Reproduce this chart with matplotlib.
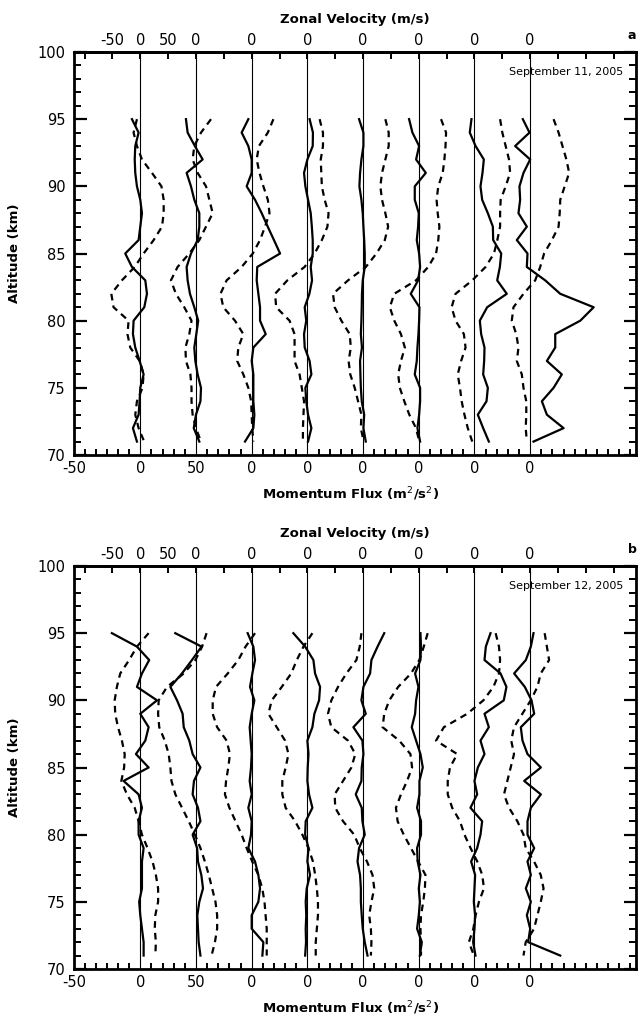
import numpy as np
import matplotlib
matplotlib.use("Agg")
import matplotlib.pyplot as plt
from matplotlib.ticker import MultipleLocator, FixedLocator, FixedFormatter

plt.rcParams['font.family'] = ['DejaVu Sans']
plt.rcParams['axes.unicode_minus'] = False

# altitude grid (km), top to bottom
alt = np.arange(95, 70, -1)

# profile offsets on the shared x axis
offsets = [0, 50, 100, 150, 200, 250, 300, 350]

# ---- September 11, 2005 ----
# momentum flux (m2/s2), 95 km -> 71 km
flux_a0 = [-7.5, -1.5, -4.5, -5, -4.5, -3, 0, 1.5, 0, -1.5, -13.5, -7.5, 4.5, 6, 3.6, -6, -6.6, -4.5, -0.6, 3, 0, -0.6, -1.5, -6.6, -3]
flux_a1 = [-9, -7.5, -1, 6, -8.4, -4.5, -1.5, 3, 3, 1.5, -4.5, -8.4, -7.5, -5.4, -1.5, 2, 0.3, -1.5, -0.6, 1.5, 4.5, 4, 0, -2, 3]
flux_a2 = [-3, -9, -3, 0, 0, -4.5, 3, 9, 14.4, 20, 25.5, 5, 4.5, 6, 7.5, 7.5, 12.6, 1.5, 0, 1.5, 1.5, 1.5, 2.4, 1.5, -6]
flux_a3 = [2, 5, 4.8, 0, -3, -1.8, 0.6, 3, 4, 4.8, 4.8, 3, 4.2, 1.8, -2.4, -1, -3, -2.4, 2, 3.6, -1.8, -1, 0.6, 3.6, 0.6]
flux_a4 = [-3.6, 0.3, 0.3, -1.5, -2.7, -3.3, -1.5, -0.3, 0.3, 1, 1.5, 1.5, -0.3, -1, -1.2, -1.5, -2, -1, -2.7, -2.4, -2, -1.2, 1, 0.3, 2.4]
flux_a5 = [-8.7, -5.7, 0.3, -2.4, 6.3, -3.6, -3.6, 0, -0.6, -1.8, 0.3, 1.2, -0.6, -7.2, 0.6, 0.3, -0.3, -1.2, -1.8, -3.6, 1.2, 1.2, 0.3, -1.2, 1.2]
flux_a6 = [-2.7, -4.2, 1, 8.4, 7.2, 5.4, 6.9, 12, 16.5, 16.8, 24, 22.8, 20.4, 29, 11.4, 4.8, 6, 9, 8.7, 7.8, 12, 10.8, 3, 7.8, 12.9]
flux_a7 = [-6.6, -0.6, -13.5, 0, -6, -9.6, -9, -10.5, -3, -12, -2.4, -3, 13.5, 27, 57, 45, 22.5, 22.5, 15, 28.4, 21, 10.5, 15, 30, 3]

# zonal velocity (m/s), 95 km -> 71 km
wind_a0 = [-6, -12, -6, 3, 21, 38, 42, 42, 39, 24, 6, -10, -33, -52, -48, -21, -23, -18, -1, 6, 4, -6, -9, -3, 7]
wind_a1 = [27, 9, -3, -6, 3, 18, 24, 30, 18, 6, -12, -33, -45, -36, -21, -8, -12, -19, -18, -10, -8, -8, -6, 0, 9]
wind_a2 = [39, 29, 13, 9, 14, 21, 29, 32, 24, 15, 2, -18, -45, -56, -51, -30, -15, -24, -26, -15, -6, -1, 0, 1, 3]
wind_a3 = [22, 28, 28, 24, 25, 26, 31, 38, 36, 26, 13, -5, -36, -58, -56, -32, -23, -23, -23, -14, -10, -6, -7, -8, -8]
wind_a4 = [40, 46, 46, 40, 34, 31, 34, 40, 45, 39, 24, 5, -27, -54, -51, -39, -24, -22, -26, -23, -15, -9, -3, -4, 1]
wind_a5 = [40, 49, 48, 46, 43, 35, 32, 34, 37, 35, 31, 17, -5, -44, -52, -44, -32, -25, -32, -37, -34, -26, -17, -5, 1]
wind_a6 = [46, 50, 56, 62, 64, 56, 47, 46, 46, 41, 35, 20, -4, -34, -41, -34, -19, -16, -24, -30, -26, -23, -18, -12, -4]
wind_a7 = [42, 51, 58, 65, 70, 62, 54, 53, 51, 39, 25, 18, 9, -12, -30, -33, -25, -21, -24, -15, -12, -7, -7, -8, -6]

# ---- September 12, 2005 ----
flux_b0 = [-25.5, -3, 8, 1.5, -3, 15, 0, 7.5, 4.5, -3.9, 7.5, -15, -1.5, 1.5, -1.5, -1.5, 3, 1.5, 1.5, 1.5, -1, 0, 1.5, 3, 3]
flux_b1 = [-18.6, 5, -3.6, -12.6, -23, -17, -12, -11, -6, -3, 4, -1.8, -3, 1.8, 4, -3, 1, 1.8, 4.8, 6.3, 3, 1.2, 1.8, 2.4, 4]
flux_b2 = [-3.6, 1.5, 3, 0.6, -1.5, 2.4, 0, -1.8, -0.9, 0, -0.6, -1.8, 0, -3, 0, -0.6, -3, 3, 6, 7.5, 6, 0, 0, 10.5, 9.6]
flux_b3 = [-12.6, -2, 5.4, 6.9, 11.4, 10.5, 6.3, 4.5, 0, 1, 0.3, 0, 1.5, 4.5, -1.5, -2, 1, 0, 2.4, -0.6, -1.5, -1, -1.5, -1.2, -2]
flux_b4 = [19, 13, 7.5, 6.3, 0.3, -1.5, 2.4, -8.7, -0.6, 0.3, -1.2, -1.5, -6.6, -1.2, -0.6, 1.5, -3.6, -5, -2.7, -2, -2, -1.2, -0.3, 1.5, 4]
flux_b5 = [1.5, 2, 1.5, -3.3, -0.3, -2.4, -3.3, -6.3, -2.4, 1.5, 3.6, 0.6, 0.6, -1.5, 2, 2, -1.5, -1, 1.5, 0, 1, 0, -1.5, 2.7, 1]
flux_b6 = [14.4, 10.2, 9, 23.4, 28.7, 26.3, 9, 12.9, 5.4, 9, 3, 0, 2.4, -3.6, 6.9, 5.4, 2.4, -3, 0.6, 0, -0.6, 0.6, 0, -1.2, 0.9]
flux_b7 = [3, 0.6, -3.9, -14.4, -4.8, 1.2, 3.6, -8.4, -6.9, -2.4, 9.6, -5.4, 9.6, 0.6, -2.4, -2.4, 3.6, -2.4, 0.6, -3.9, 0.6, -3, 0, -1.8, 27]

wind_b0 = [15, -6, -20, -36, -42, -46, -45, -40, -33, -28, -29, -34, -24, -10, -3, 3, 13, 22, 28, 32, 32, 27, 26, 28, 27]
wind_b1 = [19, 11, -1, -22, -52, -67, -68, -66, -56, -49, -46, -44, -37, -25, -13, -2, 8, 16, 23, 29, 35, 38, 38, 34, 28]
wind_b2 = [6, -11, -24, -43, -64, -70, -70, -62, -45, -39, -42, -46, -48, -40, -29, -18, -9, 1, 12, 19, 23, 25, 27, 27, 27]
wind_b3 = [9, -7, -19, -29, -46, -64, -70, -55, -40, -34, -39, -45, -45, -39, -22, -9, 2, 10, 14, 17, 19, 19, 17, 15, 15]
wind_b4 = [-3, -6, -12, -30, -45, -57, -63, -57, -27, -14, -21, -36, -51, -50, -36, -16, -6, 7, 17, 20, 15, 11, 14, 15, 14]
wind_b5 = [16, 9, 1, -14, -37, -53, -62, -65, -35, -15, -12, -21, -32, -41, -38, -27, -14, -1, 12, 11, 8, 4, 3, 4, 4]
wind_b6 = [38, 44, 46, 44, 34, 16, -13, -55, -69, -31, -44, -48, -48, -40, -26, -18, -7, 5, 14, 17, 8, 2, -2, -10, -1]
wind_b7 = [26, 30, 34, 19, 13, 1, -14, -29, -34, -29, -35, -41, -47, -38, -23, -12, -8, 7, 19, 24, 19, 13, 7, -8, -12]

flux_a = [flux_a0, flux_a1, flux_a2, flux_a3, flux_a4, flux_a5, flux_a6, flux_a7]
wind_a = [wind_a0, wind_a1, wind_a2, wind_a3, wind_a4, wind_a5, wind_a6, wind_a7]
flux_b = [flux_b0, flux_b1, flux_b2, flux_b3, flux_b4, flux_b5, flux_b6, flux_b7]
wind_b = [wind_b0, wind_b1, wind_b2, wind_b3, wind_b4, wind_b5, wind_b6, wind_b7]

wind_scale = 0.5   # 50 m/s spans 25 flux units
xmin, xmax = -59.5, 445

bottom_pos = [xmin, 0, 50, 100, 150, 200, 250, 300, 350]
bottom_lab = ['-50', '0', '50', '0', '0', '0', '0', '0', '0']
top_pos = list(range(-50, 450, 25))
top_lab_map = {-25: '-50', 0: '0', 25: '50', 50: '0', 100: '0', 150: '0',
               200: '0', 250: '0', 300: '0', 350: '0'}
top_lab = [top_lab_map.get(p, '') for p in top_pos]


def draw_panel(ax, fluxes, winds, date, letter):
    for off, fl, wd in zip(offsets, fluxes, winds):
        ax.axvline(off, color='k', lw=0.8)
        ax.plot(off + np.array(fl), alt, color='k', lw=1.6)
        ax.plot(off + wind_scale * np.array(wd), alt, color='k', lw=1.6,
                ls=(0, (3, 2.3)))
    ax.set_xlim(xmin, xmax)
    ax.set_ylim(70, 100)

    for s in ax.spines.values():
        s.set_linewidth(2)

    ax.xaxis.set_major_locator(FixedLocator(bottom_pos))
    ax.xaxis.set_major_formatter(FixedFormatter(bottom_lab))
    ax.xaxis.set_minor_locator(MultipleLocator(10))
    ax.tick_params(axis='x', which='major', length=0, pad=4, labelsize=10.5)
    ax.tick_params(axis='x', which='minor', direction='in', length=4, width=1.4)
    ax.tick_params(axis='x', which='both', top=False)

    ax.yaxis.set_major_locator(MultipleLocator(5))
    ax.yaxis.set_minor_locator(MultipleLocator(1))
    ax.tick_params(axis='y', which='major', direction='in', length=9, width=1.6,
                   right=True, labelsize=10.5, pad=6)
    ax.tick_params(axis='y', which='minor', direction='in', length=5, width=1.4,
                   right=True)

    top = ax.secondary_xaxis('top')
    top.xaxis.set_major_locator(FixedLocator(top_pos))
    top.xaxis.set_major_formatter(FixedFormatter(top_lab))
    top.tick_params(direction='in', length=5, width=1.4, labelsize=10.5, pad=3)
    top.spines['top'].set_linewidth(2)
    top.set_xlabel('Zonal Velocity (m/s)', fontsize=9.5, fontweight='bold', labelpad=7)

    ax.set_xlabel('Momentum Flux (m$^2$/s$^2$)', fontsize=9.5, fontweight='bold')
    ax.xaxis.set_label_coords(0.493, -0.075)
    ax.set_ylabel('Altitude (km)', fontsize=9.5, fontweight='bold')
    ax.yaxis.set_label_coords(-0.095, 0.5)

    ax.text(0.977, 0.95, date, transform=ax.transAxes, ha='right', va='center',
            fontsize=8)
    ax.text(0.993, 1.042, letter, transform=ax.transAxes, ha='center',
            va='center', fontsize=9, fontweight='bold')


fig = plt.figure(figsize=(6.4, 10.19), dpi=100)
ax_a = fig.add_axes([74 / 640, 1 - 455 / 1019, 562 / 640, 403 / 1019])
ax_b = fig.add_axes([74 / 640, 1 - 969 / 1019, 562 / 640, 403 / 1019])

draw_panel(ax_a, flux_a, wind_a, 'September 11, 2005', 'a')
draw_panel(ax_b, flux_b, wind_b, 'September 12, 2005', 'b')

fig.savefig('out.png', dpi=100)
